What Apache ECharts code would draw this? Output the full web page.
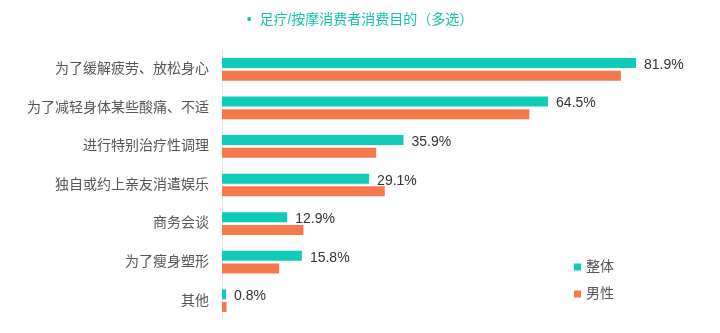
<!DOCTYPE html>
<html>
<head>
<meta charset="utf-8">
<script src="https://cdn.jsdelivr.net/npm/echarts@6/dist/echarts.min.js"></script>
<style>
  html, body { margin: 0; padding: 0; background: #fff; }
  #echarts { width: 720px; height: 333px; }
</style>
</head>
<body>
<div id="echarts"></div>
<script>
// 类别（从上到下）
var categories = ['为了缓解疲劳、放松身心', '为了减轻身体某些酸痛、不适', '进行特别治疗性调理', '独自或约上亲友消遣娱乐', '商务会谈', '为了瘦身塑形', '其他'];
// 整体 (%)
var totalData = [81.9, 64.5, 35.9, 29.1, 12.9, 15.8, 0.8];
// 男性 (%) - 读图估计
var maleData = [78.9, 60.8, 30.5, 32.2, 16.1, 11.3, 0.9];

var myChart = echarts.init(document.getElementById('echarts'));

var option = {
  backgroundColor: '#fff',
  textStyle: {
    fontFamily: "'Liberation Sans', 'Noto Sans CJK SC', sans-serif"
  },
  title: {
    text: '•  足疗/按摩消费者消费目的（多选）',
    left: 'center',
    top: 8,
    textStyle: {
      fontSize: 14,
      fontWeight: 'normal',
      color: '#19c1ad'
    }
  },
  legend: {
    data: ['整体', '男性'],
    orient: 'vertical',
    left: 569,
    top: 255,
    icon: 'rect',
    itemWidth: 7,
    itemHeight: 7,
    itemGap: 13,
    textStyle: {
      fontSize: 14,
      color: '#555'
    }
  },
  grid: {
    left: 222,
    right: 43,
    top: 50,
    bottom: 13
  },
  xAxis: {
    type: 'value',
    min: 0,
    max: 90,
    show: false
  },
  yAxis: {
    type: 'category',
    inverse: true,
    data: categories,
    axisLine: {
      show: true,
      lineStyle: { color: '#e3e3e3' }
    },
    axisTick: { show: false },
    axisLabel: {
      fontSize: 14,
      color: '#555',
      margin: 13
    }
  },
  series: [{
    name: '整体',
    type: 'bar',
    data: totalData,
    barWidth: 10,
    barGap: '27%',
    itemStyle: { color: '#0fcbb9' },
    label: {
      show: true,
      position: 'right',
      distance: 8,
      offset: [0, 2],
      formatter: '{c}%',
      fontSize: 14,
      color: '#333'
    }
  }, {
    name: '男性',
    type: 'bar',
    data: maleData,
    barWidth: 10,
    itemStyle: { color: '#f47a4b' }
  }]
};

myChart.setOption(option);
</script>
</body>
</html>
